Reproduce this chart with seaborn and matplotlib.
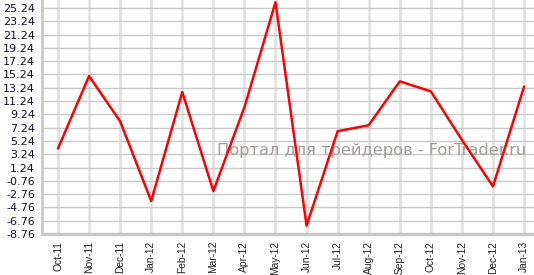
import matplotlib
matplotlib.use("Agg")
import matplotlib.pyplot as plt
import seaborn as sns
import numpy as np
import pandas as pd

months = ["Oct-11", "Nov-11", "Dec-11", "Jan-12", "Feb-12", "Mar-12", "Apr-12", "May-12",
          "Jun-12", "Jul-12", "Aug-12", "Sep-12", "Oct-12", "Nov-12", "Dec-12", "Jan-13"]
values = [4.1, 15.0, 8.2, -3.8, 12.6, -2.3, 10.3, 26.1,
          -7.5, 6.7, 7.6, 14.2, 12.7, 5.4, -1.6, 13.4]
yticks = [-8.76 + 2 * i for i in range(18)]

sns.set_style("white")
plt.rcParams['font.family'] = ['DejaVu Sans']

fig = plt.figure(figsize=(5.34, 2.75), dpi=100)
ax = fig.add_axes([42 / 534, 1 - 234 / 275, 1 - 42 / 534, 234 / 275])

df = pd.DataFrame({"idx": np.arange(len(months)), "val": values})
sns.lineplot(data=df, x="idx", y="val", ax=ax, color="#ff0000", linewidth=1.8, zorder=3)

ax.set_xlim(-0.515, len(months) - 1 + 0.32)
ax.set_ylim(-8.76, 26.44)
ax.set_xticks(np.arange(len(months)))
ax.set_xticklabels(months, rotation=90, fontsize=7.4, family="Liberation Sans", color="#222222")
ax.set_yticks(yticks)
ax.set_yticklabels([f"{v:.2f}" for v in yticks], fontsize=8, color="#111133")
ax.set_xlabel("")
ax.set_ylabel("")

for y in yticks:
    ax.axhline(y, color="#c8c8c8", linewidth=1.0, zorder=1)
ax.xaxis.grid(True, color="#e2e2e2", linewidth=2.0, zorder=0)
ax.set_axisbelow(True)

for s in ["top", "right"]:
    ax.spines[s].set_visible(False)
ax.spines["left"].set_color("#c8c8c8")
ax.spines["left"].set_linewidth(2.0)
ax.spines["bottom"].set_color("#c8c8c8")
ax.spines["bottom"].set_linewidth(2.5)
ax.tick_params(axis="y", length=3, color="#c8c8c8", width=1.5, pad=2)
ax.tick_params(axis="x", length=3, color="#c8c8c8", width=1.5, pad=2)

ax.text(0.356, 0.355, "Портал для трейдеров - ForTrader.ru", transform=ax.transAxes,
        fontsize=11.7, color="#a89a9a", ha="left", va="center", zorder=2)

fig.savefig("out.png", dpi=100)
